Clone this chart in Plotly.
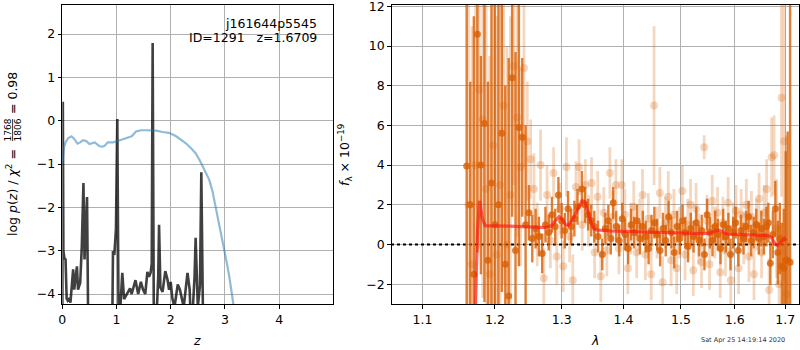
import plotly.graph_objects as go

# ---------------- redshift fit: log p(z) and scaled chi^2 ----------------
z_pz = [0.000, 0.010, 0.020, 0.040, 0.060, 0.080, 0.100, 0.130, 0.150, 0.180, 0.200,
        0.220, 0.250, 0.270, 0.290, 0.330, 0.360, 0.390, 0.410, 0.430, 0.456, 0.480,
        0.920, 0.935, 0.960, 0.990, 1.015, 1.040, 1.080, 1.107, 1.140, 1.200, 1.250,
        1.280, 1.350, 1.400, 1.450, 1.490, 1.530, 1.570, 1.600, 1.630, 1.650, 1.667,
        1.690, 1.750, 1.770, 1.785, 1.810, 1.850, 1.900, 1.940, 1.970, 2.000, 2.030,
        2.070, 2.130, 2.170, 2.200, 2.240, 2.310, 2.350, 2.380, 2.440, 2.460, 2.500,
        2.540, 2.565, 2.600, 2.650]
logp = [-5.0, 0.44, -3.0, -3.18, -3.2, -4.1, -4.15, -4.1, -4.2, -3.75, -3.43,
        -3.9, -3.6, -3.36, -3.9, -3.74, -2.9, -1.44, -3.2, -2.7, -1.76, -5.0,
        -5.0, -3.01, -3.1, -2.5, 0.04, -5.0, -4.2, -3.51, -4.12, -4.0, -3.87,
        -4.0, -3.68, -4.0, -3.72, -3.9, -4.0, -3.49, -3.6, -3.5, -3.3, 1.79,
        -5.0, -4.2, -3.6, -2.40, -3.85, -3.95, -3.47, -3.66, -3.9, -3.72, -4.1,
        -4.3, -3.78, -3.9, -4.05, -4.3, -3.51, -3.9, -5.0, -3.6, -2.70, -4.3,
        -3.8, -1.19, -5.0, -5.0]

z_chi = [0.00, 0.03, 0.06, 0.11, 0.17, 0.22, 0.28, 0.33, 0.38, 0.44, 0.50, 0.55,
         0.60, 0.65, 0.69, 0.74, 0.78, 0.84, 0.94, 1.09, 1.21, 1.28, 1.36, 1.45,
         1.55, 1.65, 1.73, 1.85, 1.97, 2.10, 2.20, 2.28, 2.38, 2.46, 2.53, 2.59,
         2.65, 2.71, 2.77, 2.83, 2.90, 2.98, 3.03, 3.08, 3.15, 3.20]
chi_scaled = [-0.98, -0.62, -0.50, -0.40, -0.36, -0.42, -0.53, -0.50, -0.45, -0.47,
              -0.54, -0.52, -0.50, -0.55, -0.59, -0.60, -0.58, -0.50, -0.50, -0.44,
              -0.40, -0.36, -0.25, -0.22, -0.22, -0.22, -0.23, -0.26, -0.28, -0.36,
              -0.44, -0.52, -0.64, -0.75, -0.90, -1.05, -1.20, -1.36, -1.62, -1.98,
              -2.40, -2.90, -3.25, -3.59, -4.20, -4.60]

# ---------------- spectrum: two grism orders ----------------
wave_a = [1.160, 1.165, 1.170, 1.175, 1.180, 1.185, 1.190, 1.195, 1.200, 1.205,
          1.210, 1.215, 1.220, 1.225, 1.230, 1.235, 1.240, 1.245, 1.250, 1.255,
          1.260, 1.265, 1.270, 1.275, 1.280, 1.285, 1.290, 1.295, 1.300, 1.305,
          1.310, 1.315, 1.320, 1.325, 1.332, 1.337, 1.342, 1.347, 1.352, 1.358,
          1.365, 1.370, 1.375, 1.379, 1.383, 1.388, 1.393, 1.398, 1.403, 1.408,
          1.413, 1.418, 1.423, 1.428, 1.433, 1.438, 1.443, 1.448, 1.453, 1.458,
          1.463, 1.468, 1.473, 1.478, 1.483, 1.488, 1.493, 1.498, 1.503, 1.508,
          1.513, 1.518, 1.523, 1.528, 1.533, 1.538, 1.543, 1.548, 1.553, 1.558,
          1.563, 1.568, 1.573, 1.578, 1.583, 1.588, 1.592, 1.597, 1.602, 1.607,
          1.612, 1.617, 1.622, 1.627, 1.632, 1.637, 1.642, 1.647, 1.652, 1.657,
          1.662, 1.666, 1.670, 1.675, 1.680, 1.685, 1.689, 1.693, 1.697, 1.701,
          1.705, 1.710]
flux_a = [3.95, 2.0, -1.5, 10.6, 4.0, 6.1, -0.8, 3.1, 1.0, 2.0,
          5.6, -1.0, -2.6, 8.4, -0.3, 5.9, 5.4, 1.0, 1.6, 0.3,
          0.8, 0.4, -0.45, 1.0, 0.6, 1.5, 0.9, 2.5, 1.2, 0.7,
          1.8, 0.9, 1.3, 1.9, 2.8, 2.0, 1.5, 1.2, 0.9, 0.4,
          -0.5, 0.8, 1.2, 0.3, 2.1, 0.9, 0.2, 1.3, 0.5, -0.2,
          1.0, 0.6, 1.2, 0.3, 0.9, 0.4, -0.2, 0.7, 1.1, 0.5,
          -0.3, 0.8, 0.2, 1.4, 0.6, -0.4, 0.9, 0.3, 1.2, 0.6,
          -0.1, 0.8, 0.4, 1.1, 0.2, 0.7, -0.5, 1.5, 0.6, 0.2,
          0.9, 0.5, -0.2, 1.0, 0.4, 0.8, -0.5, 0.6, 1.1, -0.3,
          0.7, 0.3, 0.9, 1.4, 0.2, 0.6, 1.0, 0.3, 0.8, 0.4,
          0.9, 1.1, -0.95, 0.5, 1.8, -0.4, 0.3, -1.1, -1.2, -0.8,
          -0.8, -0.9]
err_a = [16.0, 6.2, 13.0, 11.0, 5.5, 9.0, 9.0, 10.0, 12.0, 12.0,
         8.0, 9.0, 12.0, 7.0, 10.0, 7.0, 4.0, 5.0, 1.4, 1.2,
         1.0, 1.0, 1.0, 0.9, 0.9, 0.9, 0.9, 0.9, 0.9, 0.9,
         0.9, 0.9, 0.9, 0.9, 0.9, 0.9, 0.8, 0.8, 0.8, 0.8,
         0.8, 0.8, 0.8, 0.8, 0.8, 0.8, 0.8, 0.8, 0.8, 0.8,
         0.8, 0.8, 0.8, 0.8, 0.8, 0.8, 0.8, 0.8, 0.8, 0.8,
         0.8, 0.8, 0.8, 0.8, 0.8, 0.8, 0.8, 0.8, 0.8, 0.8,
         0.8, 0.8, 0.8, 0.8, 0.8, 0.8, 0.8, 0.8, 0.8, 0.8,
         0.8, 0.8, 0.8, 0.8, 0.8, 0.8, 0.8, 0.8, 0.8, 0.8,
         0.8, 0.8, 0.8, 0.8, 0.8, 0.8, 0.8, 0.8, 0.9, 0.9,
         1.0, 1.0, 1.1, 1.2, 1.4, 1.6, 1.8, 2.2, 3.0, 5.5,
         6.5, 14.0]

wave_b = [1.1625, 1.1675, 1.1725, 1.1775, 1.1825, 1.1875, 1.1925, 1.1975, 1.2025, 1.2075,
          1.2125, 1.2175, 1.2225, 1.2275, 1.2325, 1.2375, 1.2425, 1.2475, 1.2525, 1.2575,
          1.2625, 1.2675, 1.2725, 1.2775, 1.2825, 1.2875, 1.2925, 1.2975, 1.3025, 1.3075,
          1.3125, 1.3175, 1.3225, 1.3275, 1.3325, 1.3375, 1.3425, 1.3475, 1.3525, 1.3575,
          1.3625, 1.3675, 1.3725, 1.3775, 1.3825, 1.3875, 1.3925, 1.3975, 1.4025, 1.4075,
          1.4125, 1.4175, 1.4225, 1.4275, 1.4325, 1.4375, 1.4425, 1.4475, 1.4525, 1.4575,
          1.4625, 1.4675, 1.4725, 1.4775, 1.4825, 1.4875, 1.4925, 1.4975, 1.5025, 1.5075,
          1.5125, 1.5175, 1.5225, 1.5275, 1.5325, 1.5375, 1.5425, 1.5475, 1.5525, 1.5575,
          1.5625, 1.5675, 1.5725, 1.5775, 1.5825, 1.5875, 1.5925, 1.5975, 1.6025, 1.6075,
          1.6125, 1.6175, 1.6225, 1.6275, 1.6325, 1.6375, 1.6425, 1.6475, 1.6525, 1.6575,
          1.6625, 1.6675, 1.6725, 1.6775, 1.6825, 1.6875, 1.6925, 1.6975, 1.7025]
flux_b = [2.0, -1.0, 4.0, 7.8, 6.3, 2.8, -1.5, 5.0, -0.5, 3.0,
          7.0, 0.0, 2.5, 9.0, 6.4, 3.9, 8.9, 5.2, 4.3, 2.8,
          0.5, 4.0, -1.7, 2.5, 0.2, 3.6, -0.6, 1.8, -1.1, 3.9,
          0.4, -1.8, 2.9, 3.9, 1.0, 3.0, 1.2, 3.1, -0.4, 2.4,
          -1.6, 1.6, -0.3, 3.6, 1.4, 3.0, -0.2, 3.0, 1.5, -1.2,
          0.8, 1.9, -0.4, 1.0, 2.5, -0.5, 1.3, -1.5, 7.0, 0.6,
          2.6, -1.9, 1.1, 2.4, -0.8, 1.5, -1.2, 0.6, 2.7, -0.5,
          1.0, 2.0, -1.3, 1.8, 0.3, -0.9, 4.9, 1.2, -1.0, 2.2,
          0.6, 1.6, -1.4, 1.1, -0.3, 2.1, -1.8, 0.8, 1.7, -1.2,
          1.5, 0.3, 2.0, -0.6, 1.4, -1.5, 1.0, 2.3, -0.4, 1.6,
          2.8, -2.3, 4.4, 4.5, 0.8, -2.0, 7.4, 5.2, -2.5]
err_b = [14.0, 12.0, 10.0, 8.0, 9.0, 10.0, 11.0, 10.0, 12.0, 10.0,
         9.0, 10.0, 9.0, 6.0, 6.0, 5.0, 5.0, 3.0, 2.0, 1.8,
         1.6, 1.8, 1.5, 1.5, 1.4, 1.3, 1.4, 1.3, 1.3, 1.5,
         1.3, 1.3, 1.3, 1.4, 1.3, 1.3, 1.3, 1.3, 1.3, 1.3,
         1.3, 1.3, 1.3, 1.3, 1.3, 1.3, 1.3, 1.3, 1.3, 1.3,
         1.3, 1.3, 1.3, 1.3, 1.3, 1.3, 1.3, 1.3, 4.0, 1.3,
         1.3, 1.3, 1.3, 1.3, 1.3, 1.3, 1.3, 1.3, 1.3, 1.3,
         1.3, 1.3, 1.3, 1.3, 1.3, 1.3, 0.6, 1.3, 1.3, 1.3,
         1.3, 1.3, 1.3, 1.3, 1.3, 1.3, 1.3, 1.3, 1.3, 1.3,
         1.3, 1.3, 1.3, 1.3, 1.3, 1.3, 1.3, 1.3, 1.3, 1.4,
         1.5, 1.6, 2.0, 2.0, 2.5, 3.0, 5.0, 7.0, 8.0]

# best-fit template
wave_model = [1.172, 1.175, 1.178, 1.182, 1.186, 1.200, 1.220, 1.240, 1.260, 1.275,
              1.285, 1.290, 1.296, 1.300, 1.306, 1.310, 1.318, 1.325, 1.332, 1.337,
              1.342, 1.348, 1.353, 1.360, 1.380, 1.400, 1.420, 1.450, 1.480, 1.510,
              1.540, 1.555, 1.565, 1.572, 1.580, 1.590, 1.620, 1.650, 1.665, 1.672,
              1.680, 1.685, 1.690, 1.698, 1.702]
flux_model = [-3.5, 0.5, 2.2, 1.3, 0.95, 0.95, 0.93, 0.90, 0.88, 0.85,
              0.95, 1.20, 1.40, 1.30, 1.00, 0.95, 1.30, 1.80, 2.20, 2.15,
              1.60, 1.00, 0.75, 0.72, 0.68, 0.66, 0.63, 0.60, 0.58, 0.56,
              0.55, 0.58, 0.70, 0.72, 0.58, 0.52, 0.48, 0.46, 0.45, 0.35,
              0.00, -0.05, 0.10, 0.30, 0.20]

lam_ticks = [1.1, 1.2, 1.3, 1.4, 1.5, 1.6, 1.7]

FONT = "DejaVu Sans"
FS = 12.5
W, H = 800, 350
ORANGE = "217,95,2"


def px(x):
    return x / W


def py(y):
    return 1 - y / H


fig = go.Figure()

# left panel
fig.add_trace(go.Scatter(x=z_pz, y=logp, mode="lines",
                         line=dict(color="rgba(0,0,0,0.75)", width=2.6),
                         xaxis="x", yaxis="y", showlegend=False))
fig.add_trace(go.Scatter(x=z_chi, y=chi_scaled, mode="lines",
                         line=dict(color="rgba(31,119,180,0.5)", width=2.2),
                         xaxis="x", yaxis="y", showlegend=False))

# right panel
fig.add_trace(go.Scatter(x=[1.0, 2.0], y=[0, 0], mode="lines",
                         line=dict(color="black", width=1.8, dash="dot"),
                         xaxis="x2", yaxis="y2", showlegend=False))
fig.add_trace(go.Scatter(x=wave_b, y=flux_b, mode="markers",
                         marker=dict(color=f"rgba({ORANGE},0.25)", size=8),
                         error_y=dict(type="data", array=err_b, visible=True,
                                      color=f"rgba({ORANGE},0.25)", thickness=2.8, width=0),
                         xaxis="x2", yaxis="y2", showlegend=False))
fig.add_trace(go.Scatter(x=wave_a, y=flux_a, mode="markers",
                         marker=dict(color=f"rgba({ORANGE},0.8)", size=7),
                         error_y=dict(type="data", array=err_a, visible=True,
                                      color=f"rgba({ORANGE},0.8)", thickness=2.4, width=0),
                         xaxis="x2", yaxis="y2", showlegend=False))
fig.add_trace(go.Scatter(x=wave_model, y=flux_model, mode="lines",
                         line=dict(color="rgba(255,20,20,0.65)", width=3.2),
                         xaxis="x2", yaxis="y2", showlegend=False))

axis_common = dict(showline=True, linecolor="black", linewidth=1, mirror=True,
                   ticks="outside", ticklen=3.5, tickwidth=1, tickcolor="black",
                   showgrid=True, gridcolor="#b0b0b0", gridwidth=1, zeroline=False,
                   automargin=False, ticklabeloverflow="allow",
                   tickfont=dict(family=FONT, size=FS, color="black"))

fig.update_layout(
    width=W, height=H,
    margin=dict(l=0, r=0, t=0, b=0),
    paper_bgcolor="white", plot_bgcolor="white",
    font=dict(family=FONT, size=FS, color="black"),
    xaxis=dict(domain=[px(62.3), px(333.3)], range=[0, 5], anchor="y",
               tickvals=[0, 1, 2, 3, 4], **axis_common),
    yaxis=dict(domain=[py(304), py(5)], range=[-4.23, 2.67], anchor="x",
               tickvals=[-4, -3, -2, -1, 0, 1, 2], **axis_common),
    xaxis2=dict(domain=[px(391.7), px(799.3)], type="log",
                range=[0.02539, 0.23779], anchor="y2",
                tickvals=lam_ticks, ticktext=[str(t) for t in lam_ticks], **axis_common),
    yaxis2=dict(domain=[py(304), py(5)], range=[-3.0, 12.07], anchor="x2",
                tickvals=[-2, 0, 2, 4, 6, 8, 10, 12], **axis_common),
)

ann = []
# object label
ann.append(dict(text="j161644p5545", x=px(319), y=py(23), xref="paper", yref="paper",
                xanchor="right", yanchor="middle", showarrow=False,
                font=dict(family=FONT, size=FS)))
ann.append(dict(text="ID=1291\u00a0\u00a0\u00a0z=1.6709", x=px(319), y=py(38),
                xref="paper", yref="paper", xanchor="right", yanchor="middle",
                showarrow=False, font=dict(family=FONT, size=FS)))
# left y label with stacked fraction
ann.append(dict(text="log <i>p</i>(<i>z</i>) / <i>χ</i><sup>2</sup> =", x=px(12), y=py(193),
                xref="paper", yref="paper", xanchor="center", yanchor="middle",
                textangle=-90, showarrow=False, font=dict(family=FONT, size=FS)))
ann.append(dict(text="1768", x=px(7.5), y=py(130), xref="paper", yref="paper",
                xanchor="center", yanchor="middle", textangle=-90, showarrow=False,
                font=dict(family=FONT, size=9)))
ann.append(dict(text="1806", x=px(17.5), y=py(130), xref="paper", yref="paper",
                xanchor="center", yanchor="middle", textangle=-90, showarrow=False,
                font=dict(family=FONT, size=9)))
ann.append(dict(text="= 0.98", x=px(12), y=py(93), xref="paper", yref="paper",
                xanchor="center", yanchor="middle", textangle=-90, showarrow=False,
                font=dict(family=FONT, size=FS)))
# right y label
ann.append(dict(text="<i>f</i><sub>λ</sub> × 10<sup>−19</sup>", x=px(345), y=py(155),
                xref="paper", yref="paper", xanchor="center", yanchor="middle",
                textangle=-90, showarrow=False, font=dict(family=FONT, size=FS)))
# x labels
ann.append(dict(text="<i>z</i>", x=px(197), y=py(340), xref="paper", yref="paper",
                xanchor="center", yanchor="middle", showarrow=False,
                font=dict(family=FONT, size=FS)))
ann.append(dict(text="<i>λ</i>", x=px(595), y=py(340), xref="paper", yref="paper",
                xanchor="center", yanchor="middle", showarrow=False,
                font=dict(family=FONT, size=FS)))
# timestamp
ann.append(dict(text="Sat Apr 25 14:19:14 2020", x=px(743), y=py(340), xref="paper",
                yref="paper", xanchor="center", yanchor="middle", showarrow=False,
                font=dict(family=FONT, size=6.5, color="#333333")))
fig.update_layout(annotations=ann)

# fraction bar
fig.add_shape(type="line", xref="paper", yref="paper",
              x0=px(12.6), x1=px(12.6), y0=py(119), y1=py(141),
              line=dict(color="black", width=0.8))

fig.write_html("out.html")
